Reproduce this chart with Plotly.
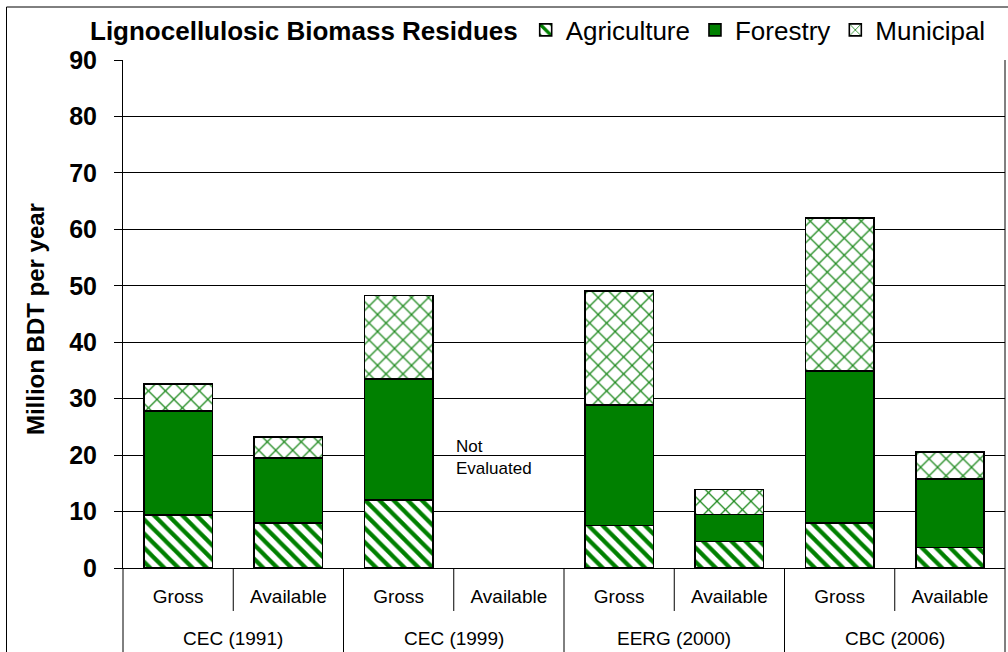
import plotly.graph_objects as go

# Studies and the two measures reported for each
studies = ["CEC (1991)", "CEC (1999)", "EERG (2000)", "CBC (2006)"]
measures = ["Gross", "Available"]

# Residue quantities, million bone-dry tons per year (None = not evaluated)
agriculture = [9.4, 8.0, 12.0, None, 7.5, 4.7, 8.0, 3.6]
forestry = [18.4, 11.5, 21.5, None, 21.4, 4.8, 26.9, 12.2]
municipal = [4.8, 3.7, 14.8, None, 20.2, 4.4, 27.1, 4.8]

y_ticks = [0, 10, 20, 30, 40, 50, 60, 70, 80, 90]

sub_labels = [m for _ in studies for m in measures]
x_pos = list(range(len(sub_labels)))

GREEN = "#008000"
FONT = "Liberation Sans, Arial, sans-serif"

fig = go.Figure()
fig.add_trace(go.Bar(
    name="Agriculture", x=x_pos, y=agriculture,
    marker=dict(color="white", line=dict(color="black", width=1.6),
                pattern=dict(shape="\\", fgcolor=GREEN, bgcolor="white",
                             size=10, solidity=0.42, fillmode="replace")),
))
fig.add_trace(go.Bar(
    name="Forestry", x=x_pos, y=forestry,
    marker=dict(color=GREEN, line=dict(color="black", width=1.6)),
))
fig.add_trace(go.Bar(
    name="Municipal", x=x_pos, y=municipal,
    marker=dict(color="white", line=dict(color="black", width=1.6),
                pattern=dict(shape="x", fgcolor="#1f8a1f", bgcolor="white",
                             size=12, solidity=0.2, fillmode="replace")),
))

# Table-like category area below the plot
top_border_y = 1 + 53 / 508
left_border_x = -116.5 / 882
shapes = [
    dict(type="line", xref="paper", yref="paper", x0=1, x1=1, y0=-0.2, y1=1,
         line=dict(color="black", width=1)),
    dict(type="line", xref="paper", yref="paper", x0=0, x1=0, y0=-0.2, y1=0,
         line=dict(color="black", width=1)),
    dict(type="line", xref="paper", yref="paper", x0=left_border_x, x1=left_border_x,
         y0=-0.2, y1=top_border_y, line=dict(color="black", width=1)),
    dict(type="line", xref="paper", yref="paper", x0=left_border_x, x1=1.1,
         y0=top_border_y, y1=top_border_y, line=dict(color="black", width=1)),
]
n_sub = len(measures)
for i in range(len(studies)):
    start = i * n_sub - 0.5
    for j in range(1, n_sub):
        shapes.append(dict(type="line", xref="x", yref="paper",
                           x0=start + j, x1=start + j, y0=0, y1=-0.0846,
                           line=dict(color="black", width=1)))
    if i > 0:
        shapes.append(dict(type="line", xref="x", yref="paper",
                           x0=start, x1=start, y0=0, y1=-0.2,
                           line=dict(color="black", width=1)))

annotations = []
for i, s in enumerate(studies):
    annotations.append(dict(text=s, xref="x", yref="paper",
                            x=i * n_sub + (n_sub - 1) / 2, y=-0.1378,
                            showarrow=False, xanchor="center", yanchor="middle",
                            font=dict(family=FONT, size=19, color="black")))
annotations.append(dict(text="Not<br>Evaluated", xref="x", yref="y",
                        x=2.5, y=19.5, showarrow=False, xanchor="left",
                        yanchor="middle", align="left",
                        font=dict(family=FONT, size=17, color="black")))
annotations.append(dict(text="Million BDT per year", xref="paper", yref="paper",
                        x=-88 / 882, y=0.49, textangle=-90, showarrow=False,
                        xanchor="center", yanchor="middle",
                        font=dict(family=FONT, size=24, color="black", weight="bold")))

fig.update_layout(
    width=1008, height=652,
    margin=dict(l=123, r=3, t=60, b=84, autoexpand=False),
    paper_bgcolor="white", plot_bgcolor="white",
    barmode="stack", bargap=0.38,
    font=dict(family=FONT, color="black"),
    showlegend=True,
    legend=dict(
        orientation="h", xref="container", yref="container",
        x=88 / 1008, y=1 - 30 / 652, xanchor="left", yanchor="middle",
        title=dict(text="Lignocellulosic Biomass Residues", side="left",
                   font=dict(family=FONT, size=26, weight="bold", color="black")),
        font=dict(family=FONT, size=26, color="black"),
        bgcolor="rgba(0,0,0,0)", traceorder="normal", itemwidth=30,
    ),
    xaxis=dict(
        range=[-0.5, len(x_pos) - 0.5], tickvals=x_pos, ticktext=sub_labels,
        showgrid=False, zeroline=False, showline=True, linecolor="black",
        linewidth=1, ticks="", ticklabelstandoff=11,
        tickfont=dict(family=FONT, size=19, color="black"),
    ),
    yaxis=dict(
        range=[0, 90], tickvals=y_ticks, showgrid=True, gridcolor="black",
        gridwidth=1, zeroline=False, showline=True, linecolor="black",
        linewidth=1, ticks="outside", ticklen=8, tickcolor="black",
        ticklabelstandoff=12,
        tickfont=dict(family=FONT, size=25, color="black", weight="bold"),
    ),
    shapes=shapes,
    annotations=annotations,
)

fig.write_html("out.html")
